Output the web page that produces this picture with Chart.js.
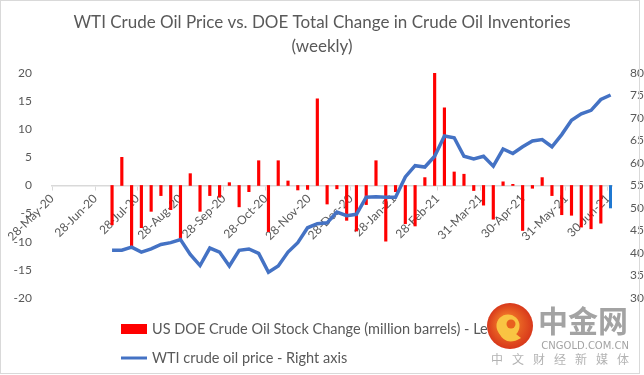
<!DOCTYPE html>
<html>
<head>
<meta charset="utf-8">
<script src="https://cdn.jsdelivr.net/npm/chart.js@4.4.0/dist/chart.umd.min.js"></script>
<style>
  html, body { margin: 0; padding: 0; background: #fff; }
</style>
</head>
<body>
<canvas id="oilChart" width="644" height="375"></canvas>
<script>
// week ending dates (Friday) of the EIA weekly reports
const weekEnding = [
  '2020-07-10', '2020-07-17', '2020-07-24', '2020-07-31', '2020-08-07', '2020-08-14', '2020-08-21', '2020-08-28',
  '2020-09-04', '2020-09-11', '2020-09-18', '2020-09-25', '2020-10-02', '2020-10-09', '2020-10-16', '2020-10-23',
  '2020-10-30', '2020-11-06', '2020-11-13', '2020-11-20', '2020-11-27', '2020-12-04', '2020-12-11', '2020-12-18',
  '2020-12-25', '2021-01-01', '2021-01-08', '2021-01-15', '2021-01-22', '2021-01-29', '2021-02-05', '2021-02-12',
  '2021-02-19', '2021-02-26', '2021-03-05', '2021-03-12', '2021-03-19', '2021-03-26', '2021-04-02', '2021-04-09',
  '2021-04-16', '2021-04-23', '2021-04-30', '2021-05-07', '2021-05-14', '2021-05-21', '2021-05-28', '2021-06-04',
  '2021-06-11', '2021-06-18', '2021-06-25', '2021-07-02'
];

// US DOE crude oil stock change (million barrels) - left axis
const stockChange = [
  -7.0, 5.0, -10.9, -7.5, -4.6, -1.8, -4.3, -9.5, 2.1, -4.6,
  -1.8, -2.1, 0.5, -3.8, -1.1, 4.4, -8.2, 4.4, 0.8, -0.8,
  -0.7, 15.4, -3.3, -0.6, -6.2, -8.1, -3.4, 4.4, -9.9, -1.1,
  -6.8, -7.2, 1.4, 20.0, 13.8, 2.4, 2.0, -0.9, -3.5, -6.0,
  0.65, 0.2, -8.0, -0.5, 1.4, -1.8, -5.2, -5.3, -7.4, -7.7,
  -6.7, -4.0
];

// WTI crude oil price (USD) - right axis
const wtiPrice = [
  40.6, 40.6, 41.3, 40.2, 40.9, 41.9, 42.3, 43.0, 39.7, 37.2,
  41.1, 40.2, 37.1, 40.6, 40.9, 39.9, 35.7, 37.1, 40.2, 42.3,
  45.6, 46.5, 46.7, 49.1, 48.3, 48.6, 52.4, 52.5, 52.4, 52.4,
  56.9, 59.4, 59.1, 61.5, 66.0, 65.6, 61.5, 60.9, 61.5, 59.3,
  63.1, 62.1, 63.6, 64.9, 65.2, 63.6, 66.3, 69.5, 70.9, 71.7,
  74.1, 75.1
];

// x axis ticks
const tickDates = [
  '2020-05-28', '2020-06-28', '2020-07-28', '2020-08-28', '2020-09-28', '2020-10-28', '2020-11-28',
  '2020-12-28', '2021-01-28', '2021-02-28', '2021-03-31', '2021-04-30', '2021-05-31', '2021-06-30'
];
const tickLabels = [
  '28-May-20', '28-Jun-20', '28-Jul-20', '28-Aug-20', '28-Sep-20', '28-Oct-20', '28-Nov-20',
  '28-Dec-20', '28-Jan-21', '28-Feb-21', '31-Mar-21', '30-Apr-21', '31-May-21', '30-Jun-21'
];
const axisStart = '2020-05-28';
const axisEnd = '2021-07-03';

const FONT = 'Lato, "Noto Sans", sans-serif';
const GREY = '#595959';

// days since axisStart
function dayNo(s) {
  return (Date.parse(s) - Date.parse(axisStart)) / 86400000;
}

const barColors = stockChange.map((v, i) => i === stockChange.length - 1 ? '#1f78d1' : '#ff0000');

// legend, frame and watermark
const decor = {
  id: 'decor',
  afterDraw(chart) {
    const c = chart.ctx;
    const ds = chart.data.datasets;
    c.save();

    c.strokeStyle = '#d9d9d9';
    c.lineWidth = 1;
    c.strokeRect(0.5, 0.5, 639, 373);

    c.font = '14.5px ' + FONT;
    c.textBaseline = 'middle';
    c.textAlign = 'left';
    c.fillStyle = '#ff0000';
    c.fillRect(121, 324, 26, 10);
    c.fillStyle = GREY;
    c.fillText(ds[1].label, 152, 329);
    c.strokeStyle = '#4472c4';
    c.lineWidth = 3;
    c.beginPath();
    c.moveTo(121, 358);
    c.lineTo(147, 358);
    c.stroke();
    c.fillText(ds[0].label, 152, 358);

    // 中金网 logo
    const g = c.createRadialGradient(506, 322, 4, 510, 326, 23);
    g.addColorStop(0, '#f5822a');
    g.addColorStop(1, '#d8381b');
    c.fillStyle = g;
    c.beginPath();
    c.arc(510, 326, 23, 0, Math.PI * 2);
    c.fill();
    c.fillStyle = '#f9c443';
    c.beginPath();
    c.arc(508, 326, 11.5, 0, Math.PI * 2);
    c.fill();
    c.fillStyle = '#e9601f';
    c.beginPath();
    c.arc(511, 324, 4.5, 0, Math.PI * 2);
    c.fill();
    c.fillStyle = '#f9c443';
    c.beginPath();
    c.moveTo(499, 333);
    c.quadraticCurveTo(506, 347, 521, 338);
    c.lineTo(516, 334);
    c.closePath();
    c.fill();

    c.fillStyle = '#a3a3a3';
    c.font = 'bold 30px "Noto Sans CJK SC"';
    c.fillText('中金网', 538, 321);
    c.font = '10px "DejaVu Sans"';
    c.textAlign = 'right';
    c.fillText('CNGOLD.COM.CN', 629, 346);
    c.fillStyle = '#b3b3b3';
    c.font = '12px "Noto Sans CJK SC"';
    c.textAlign = 'left';
    '中文财经新媒体'.split('').forEach((ch, i) => c.fillText(ch, 491 + i * 21, 359));

    c.restore();
  }
};

const ctx = document.getElementById('oilChart').getContext('2d');
const oilChart = new Chart(ctx, {
  type: 'bar',
  data: {
    datasets: [
      {
        type: 'line',
        label: 'WTI crude oil price - Right axis',
        data: weekEnding.map((d, i) => ({ x: dayNo(d), y: wtiPrice[i] })),
        yAxisID: 'y1',
        borderColor: '#4472c4',
        borderWidth: 3.5,
        pointRadius: 0,
        tension: 0,
        order: 0
      },
      {
        type: 'bar',
        label: 'US DOE Crude Oil Stock Change (million barrels) - Left axis',
        data: weekEnding.map((d, i) => ({ x: dayNo(d), y: stockChange[i] })),
        backgroundColor: barColors,
        barThickness: 2.5,
        yAxisID: 'y',
        order: 1
      }
    ]
  },
  options: {
    responsive: false,
    animation: false,
    layout: { padding: { left: 0, right: 0, top: 0, bottom: 77 } },
    plugins: {
      legend: { display: false },
      tooltip: { enabled: false },
      title: {
        display: true,
        text: ['WTI Crude Oil Price vs. DOE Total Change in Crude Oil Inventories', '(weekly)'],
        color: GREY,
        font: { family: FONT, size: 17, weight: 'normal', lineHeight: 1.41 },
        padding: { top: 11, bottom: 14 }
      }
    },
    scales: {
      x: {
        type: 'linear',
        position: { y: 0 },
        min: 0,
        max: dayNo(axisEnd),
        offset: false,
        afterBuildTicks: (s) => { s.ticks = tickDates.map(d => ({ value: dayNo(d) })); },
        ticks: {
          autoSkip: false,
          minRotation: 45,
          maxRotation: 45,
          padding: 2,
          color: GREY,
          font: { family: FONT, size: 12 },
          callback: (v, i) => tickLabels[i]
        },
        grid: { drawOnChartArea: false, offset: false, color: '#d9d9d9', tickLength: 4 },
        border: { color: '#d9d9d9', width: 1.5 }
      },
      y: {
        position: 'left',
        min: -20,
        max: 20,
        ticks: { stepSize: 5, padding: 12, color: GREY, font: { family: FONT, size: 12 } },
        grid: { display: false },
        border: { display: false },
        afterFit: (s) => { s.width = 52; }
      },
      y1: {
        position: 'right',
        min: 30,
        max: 80,
        ticks: { stepSize: 5, padding: 10, color: GREY, font: { family: FONT, size: 12 } },
        grid: { display: false },
        border: { display: false },
        afterFit: (s) => { s.width = 32; }
      }
    }
  },
  plugins: [decor]
});
</script>
</body>
</html>
